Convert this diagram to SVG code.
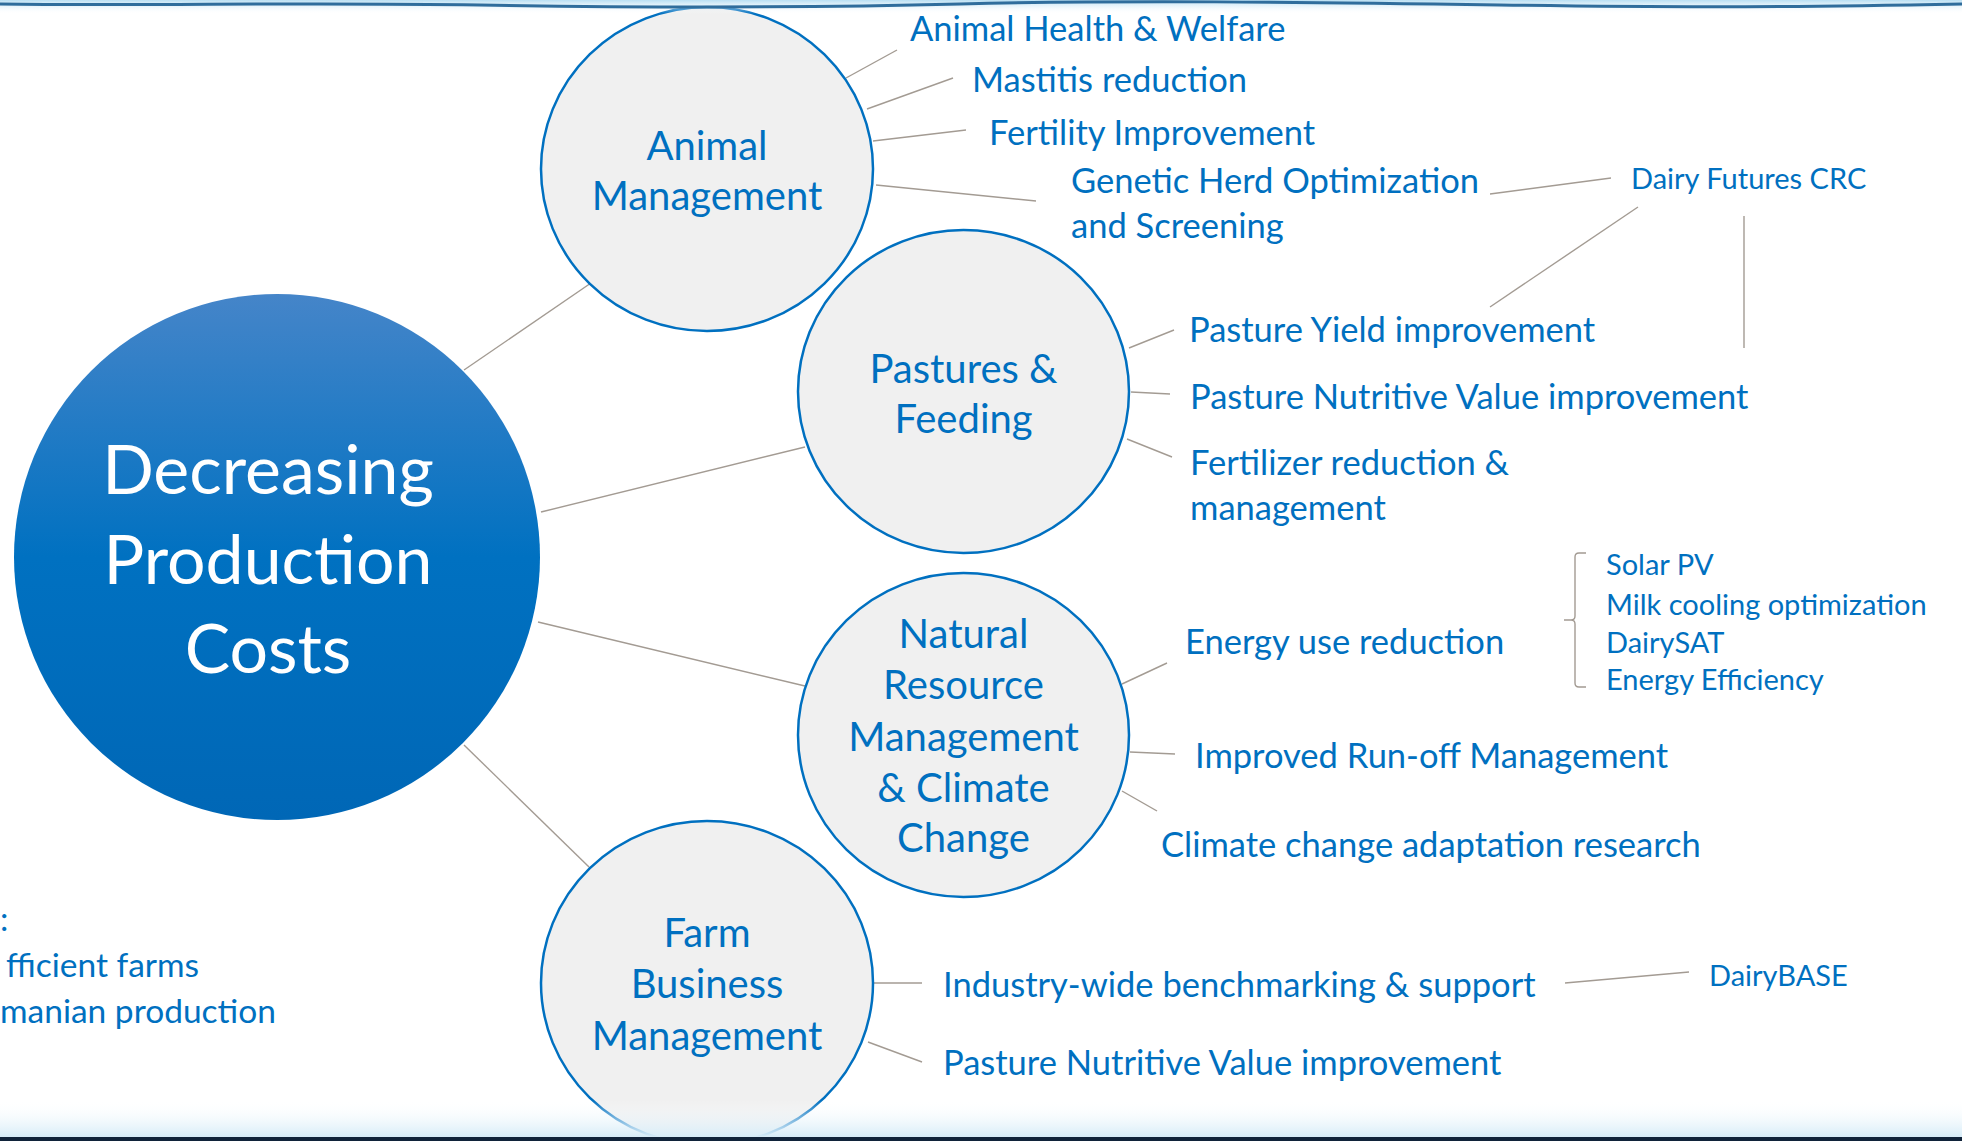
<svg xmlns="http://www.w3.org/2000/svg" width="1962" height="1141" viewBox="0 0 1962 1141">
  <defs>
    <linearGradient id="hubFill" x1="0" y1="0" x2="0" y2="1">
      <stop offset="0" stop-color="#4585c9"/>
      <stop offset="0.5" stop-color="#0071c1"/>
      <stop offset="1" stop-color="#0067b6"/>
    </linearGradient>
    <linearGradient id="topHaze" x1="0" y1="0" x2="0" y2="1">
      <stop offset="0" stop-color="#b9dff3"/>
      <stop offset="1" stop-color="#ffffff" stop-opacity="0"/>
    </linearGradient>
    <linearGradient id="bottomHaze" x1="0" y1="0" x2="0" y2="1">
      <stop offset="0" stop-color="#ffffff" stop-opacity="0"/>
      <stop offset="1" stop-color="#d6ecf8"/>
    </linearGradient>
  </defs>
  <style>
    .link{stroke:#a39b93;stroke-width:1.4;fill:none}
    .topic{fill:#f0f0f0;stroke:#0070c0;stroke-width:2.5}
    .t{font-family:Lato,"Open Sans",sans-serif;fill:#0070c0}
    .tc{font-size:40px;text-anchor:middle}
    .tl{font-size:34.5px}
    .ts{font-size:29px}
    .tn{font-size:33.5px}
    .hub{font-family:Lato,"Open Sans",sans-serif;font-size:68px;fill:#ffffff;text-anchor:middle}
  </style>

  <rect width="1962" height="1141" fill="#ffffff"/>

  <!-- connectors -->
  <g id="connectors">
    <line class="link" x1="464" y1="370" x2="591" y2="283"/>
    <line class="link" x1="541" y1="512" x2="805" y2="447"/>
    <line class="link" x1="538" y1="622" x2="805" y2="686"/>
    <line class="link" x1="464" y1="745" x2="589" y2="867"/>

    <line class="link" x1="846" y1="78" x2="897" y2="50"/>
    <line class="link" x1="867" y1="109" x2="953" y2="78"/>
    <line class="link" x1="873" y1="141" x2="966" y2="130"/>
    <line class="link" x1="876" y1="185" x2="1036" y2="201"/>

    <line class="link" x1="1490" y1="194" x2="1611" y2="178"/>
    <line class="link" x1="1490" y1="307" x2="1638" y2="207"/>
    <line class="link" x1="1744" y1="216" x2="1744" y2="348"/>

    <line class="link" x1="1129" y1="348" x2="1174" y2="330"/>
    <line class="link" x1="1131" y1="392" x2="1170" y2="394"/>
    <line class="link" x1="1127" y1="439" x2="1172" y2="457"/>

    <line class="link" x1="1122" y1="684" x2="1167" y2="663"/>
    <line class="link" x1="1130" y1="752" x2="1175" y2="754"/>
    <line class="link" x1="1122" y1="791" x2="1157" y2="811"/>
    <path class="link" d="M1586,553 L1579,553 Q1575,553 1575,557 L1575,616 Q1575,620 1571,620 L1564,620 M1571,620 Q1575,620 1575,624 L1575,683 Q1575,687 1579,687 L1586,687"/>

    <line class="link" x1="873" y1="983" x2="922" y2="983"/>
    <line class="link" x1="868" y1="1042" x2="922" y2="1062"/>
    <line class="link" x1="1565" y1="983" x2="1689" y2="972"/>
  </g>

  <!-- central hub -->
  <g id="hub">
    <circle cx="277" cy="557" r="263" fill="url(#hubFill)"/>
    <text class="hub" x="268" y="494">Decreasing</text>
    <text class="hub" x="268" y="584">Production</text>
    <text class="hub" x="268" y="673">Costs</text>
  </g>

  <g id="animal-management">
    <ellipse class="topic" cx="707" cy="169" rx="166" ry="162"/>
    <text class="t tc" x="707" y="160">Animal</text>
    <text class="t tc" x="707" y="210">Management</text>
  </g>

  <g id="pastures-feeding">
    <ellipse class="topic" cx="963.5" cy="391.5" rx="165.5" ry="161.5"/>
    <text class="t tc" x="963.5" y="383">Pastures &amp;</text>
    <text class="t tc" x="963.5" y="433">Feeding</text>
  </g>

  <g id="natural-resource">
    <ellipse class="topic" cx="963.5" cy="735" rx="165.5" ry="162"/>
    <text class="t tc" x="963.5" y="648">Natural</text>
    <text class="t tc" x="963.5" y="699">Resource</text>
    <text class="t tc" x="963.5" y="751">Management</text>
    <text class="t tc" x="963.5" y="802">&amp; Climate</text>
    <text class="t tc" x="963.5" y="852">Change</text>
  </g>

  <g id="farm-business">
    <ellipse class="topic" cx="707" cy="983" rx="166" ry="162"/>
    <text class="t tc" x="707" y="947">Farm</text>
    <text class="t tc" x="707" y="998">Business</text>
    <text class="t tc" x="707" y="1050">Management</text>
  </g>

  <!-- activity labels -->
  <g id="animal-items">
    <text class="t tl" x="910" y="41">Animal Health &amp; Welfare</text>
    <text class="t tl" x="972" y="92">Mastitis reduction</text>
    <text class="t tl" x="989" y="145">Fertility Improvement</text>
    <text class="t tl" x="1071" y="193">Genetic Herd Optimization</text>
    <text class="t tl" x="1071" y="238">and Screening</text>
  </g>

  <g id="dairy-futures">
    <text class="t ts" x="1631" y="189">Dairy Futures CRC</text>
  </g>

  <g id="pasture-items">
    <text class="t tl" x="1189" y="342">Pasture Yield improvement</text>
    <text class="t tl" x="1190" y="409">Pasture Nutritive Value improvement</text>
    <text class="t tl" x="1190" y="475">Fertilizer reduction &amp;</text>
    <text class="t tl" x="1190" y="520">management</text>
  </g>

  <g id="resource-items">
    <text class="t tl" x="1185" y="654">Energy use reduction</text>
    <text class="t tl" x="1195" y="768">Improved Run-off Management</text>
    <text class="t tl" x="1161" y="857">Climate change adaptation research</text>
  </g>

  <g id="energy-items">
    <text class="t ts" x="1606" y="575">Solar PV</text>
    <text class="t ts" x="1606" y="615">Milk cooling optimization</text>
    <text class="t ts" x="1606" y="653">DairySAT</text>
    <text class="t ts" x="1606" y="690">Energy Efficiency</text>
  </g>

  <g id="business-items">
    <text class="t tl" x="943" y="997">Industry-wide benchmarking &amp; support</text>
    <text class="t tl" x="943" y="1075">Pasture Nutritive Value improvement</text>
  </g>

  <g id="dairybase">
    <text class="t ts" x="1709" y="986">DairyBASE</text>
  </g>

  <g id="side-notes">
    <text class="t tn" x="0" y="931">:</text>
    <text class="t tn" x="6" y="977">fficient farms</text>
    <text class="t tn" x="0" y="1023">manian production</text>
  </g>

  <!-- page edges -->
  <rect x="0" y="0" width="1962" height="14" fill="url(#topHaze)"/>
  <path d="M0,4 C150,6 300,2 480,5 S800,8 960,4 S1300,2 1500,5 S1800,7 1962,4" fill="none" stroke="#2f6d9c" stroke-width="3"/>
  <rect x="0" y="1100" width="1962" height="37" fill="url(#bottomHaze)"/>
  <rect x="0" y="1137" width="1962" height="4" fill="#10233a"/>
</svg>
